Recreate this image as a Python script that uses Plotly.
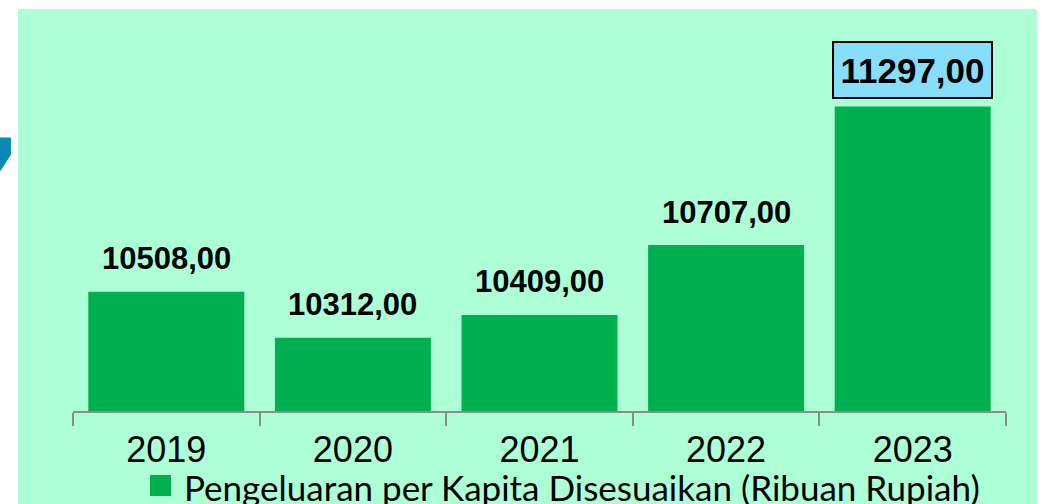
import plotly.graph_objects as go

years = ["2019", "2020", "2021", "2022", "2023"]
values = [10508.00, 10312.00, 10409.00, 10707.00, 11297.00]
series_name = "Pengeluaran per Kapita Disesuaikan (Ribuan Rupiah)"

W, H = 1043, 504
L, R, T, B = 73, 37, 11, 93
PW, PH = W - L - R, H - T - B

def px_x(p):
    return (p - L) / PW

def px_y(p):
    return (H - B - p) / PH

PANEL = "#adffd6"
BAR = "#00b050"
NARROW = "Liberation Sans Narrow, Arial Narrow, Liberation Sans, Arial, sans-serif"

fig = go.Figure()
fig.add_trace(go.Bar(
    x=years, y=values, name=series_name,
    marker=dict(color=BAR, line=dict(width=0)),
    showlegend=False,
))

def fmt(v):
    return f"{v:.2f}".replace(".", ",")

annotations = []
for i, (yr, v) in enumerate(zip(years, values)):
    if i == len(values) - 1:
        annotations.append(dict(
            x=i, y=v, xref="x", yref="y", text=f"<b>{fmt(v)}</b>",
            showarrow=False, xanchor="center", yanchor="middle", yshift=37,
            font=dict(family=NARROW, size=35, color="black"),
            bgcolor="#87defa", bordercolor="black", borderwidth=2, borderpad=2,
            width=153, height=50,
        ))
    else:
        annotations.append(dict(
            x=i, y=v, xref="x", yref="y", text=f"<b>{fmt(v)}</b>",
            showarrow=False, xanchor="center", yanchor="middle", yshift=33,
            font=dict(family=NARROW, size=31, color="black"),
        ))

# manual legend text
annotations.append(dict(
    x=px_x(182), y=px_y(487), xref="paper", yref="paper",
    text=series_name, showarrow=False, xanchor="left", yanchor="middle",
    font=dict(family="Lato, Open Sans, sans-serif", size=35, color="black"),
))
# blue quote glyph at left edge
annotations.append(dict(
    x=px_x(25), y=px_y(120), xref="paper", yref="paper",
    text="<b>,</b>", showarrow=False, xanchor="right", yanchor="middle",
    font=dict(family="DejaVu Sans", size=115, color="#0b89b5"),
))

shapes = [
    dict(type="rect", xref="paper", yref="paper", layer="below",
         x0=px_x(18), x1=px_x(1037), y0=px_y(504), y1=px_y(9),
         fillcolor=PANEL, line=dict(width=0)),
    dict(type="rect", xref="paper", yref="paper", layer="above",
         x0=px_x(150), x1=px_x(171), y0=px_y(496), y1=px_y(475),
         fillcolor=BAR, line=dict(width=0)),
]

fig.update_layout(
    width=W, height=H,
    margin=dict(l=L, r=R, t=T, b=B, pad=0, autoexpand=False),
    paper_bgcolor="white", plot_bgcolor=PANEL,
    bargap=0.164,
    annotations=annotations, shapes=shapes,
    showlegend=False,
)
fig.update_xaxes(
    type="category", automargin=False, tickangle=0,
    range=[-0.5, len(years) - 0.5], autorange=False,
    showline=True, linecolor="#8c8c8c", linewidth=1.5,
    ticks="outside", tickson="boundaries", ticklen=13, tickcolor="#8c8c8c", tickwidth=1.5,
    ticklabelstandoff=6,
    tickfont=dict(family=NARROW, size=36, color="black"),
    showgrid=False, zeroline=False,
)
fig.update_yaxes(range=[10000, 11704], autorange=False, visible=False,
                 showgrid=False, zeroline=False, automargin=False)

fig.write_html("out.html", config={"displayModeBar": False},
               post_script="document.body.style.margin='0';")
